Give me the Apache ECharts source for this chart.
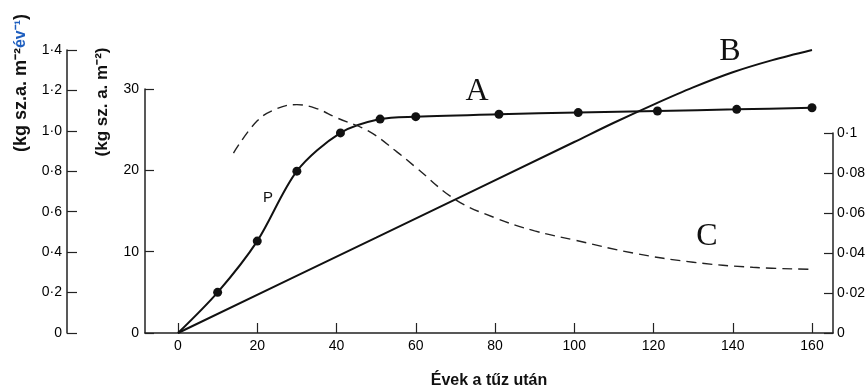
<!DOCTYPE html>
<html lang="hu">

<head>
  <meta charset="UTF-8">
  <title>Évek a tűz után</title>
  <script src="https://cdn.jsdelivr.net/npm/echarts@6/dist/echarts.min.js"></script>
</head>
<style>
  body {
    margin: 0;
    background: #fff;
  }

  .mychart {
    width: 867px;
    height: 390px;
  }
</style>

<body>
  <div class="mychart"></div>
</body>
<script>
  // x: évek a tűz után
  const xTicks = [0, 20, 40, 60, 80, 100, 120, 140, 160];

  // A görbe (kg sz. a. m-2), pontokkal
  const aYears = [0, 10, 20, 30, 41, 51, 60, 81, 101, 121, 141, 160];
  const aValues = [0, 5.0, 11.3, 19.9, 24.6, 26.3, 26.6, 26.9, 27.1, 27.3, 27.5, 27.7];

  // B görbe (kg sz.a. m-2 év-1 tengely)
  const bYears = [0, 50, 100, 110, 120, 130, 140, 150, 160];
  const bValues = [0, 0.472, 0.945, 1.04, 1.13, 1.215, 1.29, 1.35, 1.4];

  // C görbe, szaggatott
  const cYears = [14, 20, 25, 30, 35, 40, 48, 55, 60, 70, 80, 90, 100, 115, 130, 145, 160];
  const cValues = [0.89, 1.05, 1.11, 1.13, 1.11, 1.065, 1.0, 0.9, 0.82, 0.66, 0.57, 0.505, 0.46, 0.395, 0.35, 0.325, 0.315];

  const pair = (xs, ys) => xs.map((x, i) => [x, ys[i]]);
  // 1·4, 0·08 stílusú feliratok
  const dot = (digits) => (v) => (v === 0 ? '0' : v.toFixed(digits).replace(/0+$/, (m) => (digits === 1 ? m : '')).replace('.', '·'));

  const font = 'Liberation Sans';
  const labelStyle = {
    color: '#000',
    fontSize: 14,
    fontFamily: font,
  };
  const axisLine = { show: true, onZero: false, lineStyle: { color: '#222', width: 1.5 } };
  const tickStyle = { color: '#222', width: 1.2 };
  const xMin = -8.33;
  const xMax = 165.3;

  const hiddenX = (gridIndex) => ({
    type: 'value',
    gridIndex,
    min: xMin,
    max: xMax,
    show: false,
  });

  const gridBox = (top) => ({ left: 145, right: 34, top, bottom: 57, outerBoundsMode: 'none', containLabel: false });

  let myChart = window.echarts.init(document.querySelector('.mychart'));
  myChart.setOption({
    backgroundColor: '#fff',
    animation: false,
    grid: [gridBox(50), gridBox(89), gridBox(133)],
    xAxis: [
      {
        type: 'value',
        gridIndex: 0,
        min: xMin,
        max: xMax,
        name: 'Évek a tűz után',
        nameLocation: 'middle',
        nameGap: 40,
        nameTextStyle: { color: '#111', fontSize: 16, fontWeight: 'bold', fontFamily: font },
        splitLine: { show: false },
        axisLine: { ...axisLine },
        axisTick: { inside: true, length: 10, customValues: xTicks, lineStyle: tickStyle },
        axisLabel: { ...labelStyle, margin: 6, customValues: xTicks },
      },
      hiddenX(1),
      hiddenX(2),
    ],
    yAxis: [
      {
        type: 'value',
        gridIndex: 0,
        position: 'left',
        offset: 78,
        min: 0,
        max: 1.4,
        interval: 0.2,
        splitLine: { show: false },
        axisLine: { ...axisLine },
        axisTick: { inside: true, length: 10, lineStyle: tickStyle },
        axisLabel: { ...labelStyle, margin: 5, formatter: dot(1) },
      },
      {
        type: 'value',
        gridIndex: 1,
        position: 'left',
        min: 0,
        max: 30,
        interval: 10,
        splitLine: { show: false },
        axisLine: { ...axisLine },
        axisTick: { inside: true, length: 9, lineStyle: tickStyle },
        axisLabel: { ...labelStyle, margin: 6 },
      },
      {
        type: 'value',
        gridIndex: 2,
        position: 'right',
        min: 0,
        max: 0.1,
        interval: 0.02,
        splitLine: { show: false },
        axisLine: { ...axisLine },
        axisTick: { inside: true, length: 9, lineStyle: tickStyle },
        axisLabel: { ...labelStyle, margin: 4, formatter: dot(2) },
      },
    ],
    series: [
      {
        name: 'A',
        type: 'line',
        xAxisIndex: 1,
        yAxisIndex: 1,
        data: pair(aYears, aValues),
        smooth: 0.3,
        symbol: 'circle',
        symbolSize: (v) => (v[0] === 0 ? 0 : 9),
        itemStyle: { color: '#111' },
        lineStyle: { color: '#111', width: 2 },
      },
      {
        name: 'B',
        type: 'line',
        xAxisIndex: 0,
        yAxisIndex: 0,
        data: pair(bYears, bValues),
        smooth: 0.3,
        showSymbol: false,
        lineStyle: { color: '#111', width: 2 },
      },
      {
        name: 'C',
        type: 'line',
        xAxisIndex: 0,
        yAxisIndex: 0,
        data: pair(cYears, cValues),
        smooth: 0.4,
        showSymbol: false,
        lineStyle: { color: '#222', width: 1.4, type: [10, 6] },
      },
    ],
    graphic: [
      {
        type: 'text',
        x: 21,
        y: 83,
        rotation: Math.PI / 2,
        style: {
          text: '(kg sz.a. m⁻²{b|év⁻¹})',
          fill: '#111',
          font: 'bold 18px "Liberation Sans"',
          align: 'center',
          verticalAlign: 'middle',
          rich: { b: { fill: '#1f5fbf', font: 'bold 16px "Liberation Sans"' } },
        },
      },
      {
        type: 'text',
        x: 102,
        y: 102,
        rotation: Math.PI / 2,
        style: {
          text: '(kg sz. a. m⁻²)',
          fill: '#111',
          font: 'bold 17px "Liberation Sans"',
          align: 'center',
          verticalAlign: 'middle',
        },
      },
      { type: 'text', x: 477, y: 92, style: { text: 'A', fill: '#111', font: '32px "Liberation Serif"', align: 'center', verticalAlign: 'middle' } },
      { type: 'text', x: 730, y: 52, style: { text: 'B', fill: '#111', font: '32px "Liberation Serif"', align: 'center', verticalAlign: 'middle' } },
      { type: 'text', x: 707, y: 237, style: { text: 'C', fill: '#111', font: '32px "Liberation Serif"', align: 'center', verticalAlign: 'middle' } },
      { type: 'text', x: 268, y: 198, style: { text: 'P', fill: '#111', font: '15px "Liberation Sans"', align: 'center', verticalAlign: 'middle' } },
    ],
  });
</script>

</html>
